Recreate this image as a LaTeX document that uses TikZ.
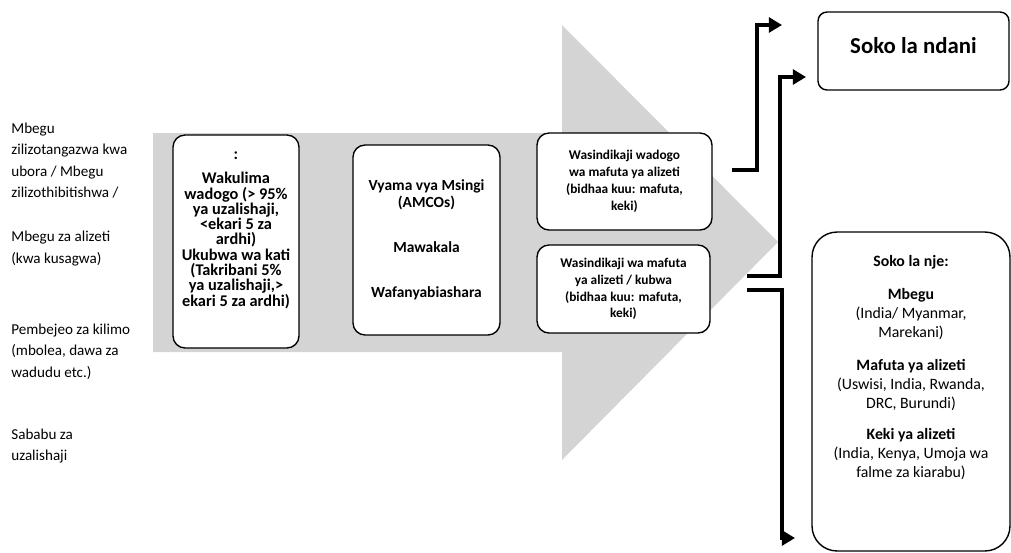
\documentclass[tikz,border=0pt]{standalone}
\usepackage{fontspec}
\setmainfont{Carlito}
\usetikzlibrary{arrows.meta}
\definecolor{shaftgray}{RGB}{212,212,212}

\begin{document}
\begin{tikzpicture}[x=0.02cm, y=-0.02cm,
	box/.style={draw, line width=0.8pt, fill=white, rounded corners=0.24cm, align=center, inner sep=2pt},
	conn/.style={line width=1.8pt, -{Triangle[length=7.5pt,width=8.5pt]}},
	side/.style={anchor=west, align=left, inner sep=0pt, font=\fontsize{8.6}{12.2}\selectfont}]
	\useasboundingbox (0,0) rectangle (1011,552);
	% big grey arrow
	\fill[shaftgray] (153,133) -- (562,133) -- (562,25) -- (778,242) -- (562,460) -- (562,352) -- (153,352) -- cycle;
	% inputs on the left
	\node[side] (mbegu) at (11,160.5) {Mbegu\\ zilizotangazwa kwa\\ ubora / Mbegu\\ zilizothibitishwa /};
	\node[side] (alizeti) at (11,248.5) {Mbegu za alizeti\\ (kwa kusagwa)};
	\node[side] (pembejeo) at (11,351.5) {Pembejeo za kilimo\\ (mbolea, dawa za\\ wadudu etc.)};
	\node[side] (sababu) at (11,446) {Sababu za\\ uzalishaji};
	% chain boxes
	\node[box, minimum width=2.52cm, minimum height=4.26cm, font=\bfseries\fontsize{9.3}{8.7}\selectfont] (wakulima) at (236,241.5)
		{:\\[5pt] Wakulima\\ wadogo (> 95\%\\ ya uzalishaji,\\ <ekari 5 za\\ ardhi)\\ Ukubwa wa kati\\ (Takribani 5\%\\ ya uzalishaji,>\\ ekari 5 za ardhi)\rule[-0.5cm]{0pt}{0.5cm}};
	\node[box, minimum width=2.94cm, minimum height=3.8cm, font=\bfseries\fontsize{8.8}{9.6}\selectfont] (vyama) at (426.5,240)
		{Vyama vya Msingi\\ (AMCOs)\\[16pt] Mawakala\\[16pt] Wafanyabiashara};
	\node[box, minimum width=3.5cm, minimum height=1.94cm, font=\bfseries\fontsize{7.6}{9.6}\selectfont] (wadogo) at (624.5,181.5)
		{Wasindikaji wadogo\\ wa mafuta ya alizeti\\ (bidhaa kuu: mafuta,\\ keki)};
	\node[box, minimum width=3.46cm, minimum height=1.76cm, font=\bfseries\fontsize{7.6}{9.6}\selectfont] (kubwa) at (623.5,289)
		{Wasindikaji wa mafuta\\ ya alizeti / kubwa\\ (bidhaa kuu: mafuta,\\ keki)};
	% markets
	\node[box, rounded corners=0.18cm, minimum width=3.82cm, minimum height=1.56cm, font=\bfseries\fontsize{13}{15}\selectfont] (ndani) at (913.5,51)
		{Soko la ndani\rule[-0.24cm]{0pt}{0.24cm}};
	\node[box, rounded corners=0.5cm, minimum width=3.96cm, minimum height=6.38cm, font=\fontsize{9}{10.8}\selectfont] (nje) at (911,391.5)
		{\textbf{Soko la nje:}\\[8pt] \textbf{Mbegu}\\ (India/ Myanmar,\\ Marekani)\\[8pt]
		\textbf{Mafuta ya alizeti}\\ (Uswisi, India, Rwanda,\\ DRC, Burundi)\\[7pt]
		\textbf{Keki ya alizeti}\\ (India, Kenya, Umoja wa\\ falme za kiarabu)\rule[-1cm]{0pt}{1cm}};
	% connectors
	\coordinate (c1s) at (732,170);
	\coordinate (c1e) at (782,25);
	\coordinate (c2s) at (747,276);
	\coordinate (c2e) at (806,77);
	\coordinate (c3s) at (747,290);
	\coordinate (c3e) at (795,538);
	\draw[conn] (c1s) -- ++(25,0) |- (c1e);
	\draw[conn] (c2s) -- ++(33,0) |- (c2e);
	\draw[conn] (c3s) -- ++(35,0) |- (c3e);
\end{tikzpicture}
\end{document}
